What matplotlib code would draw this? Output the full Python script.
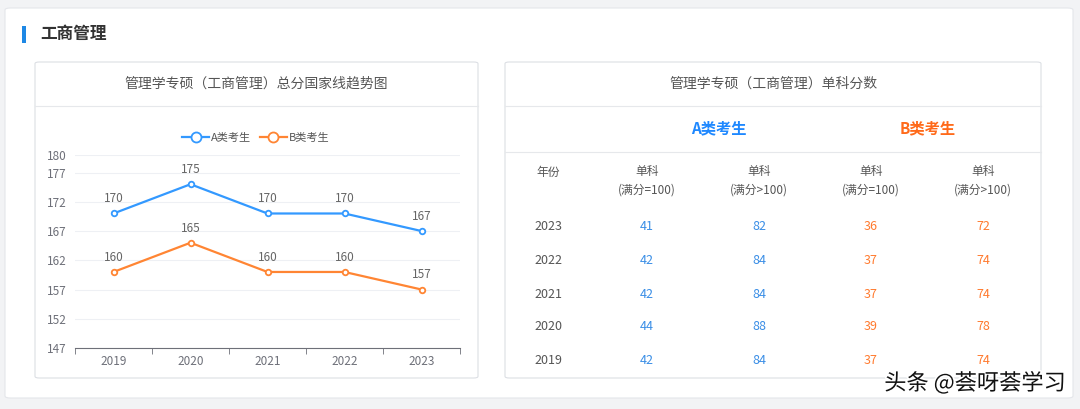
import matplotlib
matplotlib.use("Agg")
import matplotlib.pyplot as plt
from matplotlib.patches import FancyBboxPatch, Rectangle
from matplotlib.lines import Line2D
import matplotlib.patheffects as pe

plt.rcParams['font.family'] = ['Noto Sans CJK SC', 'DejaVu Sans']

# data
years = ['2019', '2020', '2021', '2022', '2023']
a_total = [170, 175, 170, 170, 167]
b_total = [160, 165, 160, 160, 157]
y_ticks = [147, 152, 157, 162, 167, 172, 177, 180]

table_years = ['2023', '2022', '2021', '2020', '2019']
a_eq100 = [41, 42, 42, 44, 42]
a_gt100 = [82, 84, 84, 88, 84]
b_eq100 = [36, 37, 37, 39, 37]
b_gt100 = [72, 74, 74, 78, 74]

BLUE = '#3399ff'
ORANGE = '#ff8533'
TBL_BLUE = '#3a8ee6'
TBL_ORANGE = '#ff7a2e'
W, H = 1080, 409


def fx(x):
    return x / W


def fy(y):
    return 1 - y / H


fig = plt.figure(figsize=(10.8, 4.09), dpi=100)
fig.patch.set_facecolor('#f2f3f5')

# outer white card
fig.patches.append(FancyBboxPatch((fx(5), fy(398)), fx(1068), 390 / H,
                                  boxstyle='round,pad=0,rounding_size=0.005',
                                  transform=fig.transFigure, fc='white', ec='#e4e6ea', lw=0.8,
                                  zorder=-3))
# section title
fig.patches.append(Rectangle((fx(22), fy(43)), fx(4), 17 / H, transform=fig.transFigure,
                             fc='#1e88e5', ec='none', zorder=-2))
fig.text(fx(40), fy(34), '工商管理', fontsize=12, fontweight='bold', color='#333333', va='center')

# two panels
for x0, x1 in [(35, 478), (505, 1041)]:
    fig.patches.append(FancyBboxPatch((fx(x0), fy(378)), fx(x1 - x0), 316 / H,
                                      boxstyle='round,pad=0,rounding_size=0.004',
                                      transform=fig.transFigure, fc='white', ec='#dcdfe4', lw=0.8,
                                      zorder=-2))
    fig.lines.append(Line2D([fx(x0), fx(x1)], [fy(106), fy(106)], transform=fig.transFigure,
                            color='#e6e8eb', lw=0.8, zorder=-1))
fig.lines.append(Line2D([fx(505), fx(1041)], [fy(152), fy(152)], transform=fig.transFigure,
                        color='#e6e8eb', lw=0.8, zorder=-1))

fig.text(fx(256), fy(84), '管理学专硕（工商管理）总分国家线趋势图', fontsize=10, color='#555555',
         ha='center', va='center')
fig.text(fx(773), fy(84), '管理学专硕（工商管理）单科分数', fontsize=10, color='#555555',
         ha='center', va='center')

# line chart
ax = fig.add_axes([fx(75), fy(348), fx(385), 193 / H])
ax.set_zorder(2)
ax.patch.set_alpha(0)
x = range(len(years))
ax.plot(x, a_total, color=BLUE, lw=1.6, marker='o', ms=4, mfc='white', mec=BLUE, mew=1.3,
        label='A类考生')
ax.plot(x, b_total, color=ORANGE, lw=1.6, marker='o', ms=4, mfc='white', mec=ORANGE, mew=1.3,
        label='B类考生')
for i, (a, b) in enumerate(zip(a_total, b_total)):
    ax.annotate(str(a), (i, a), xytext=(0, 8), textcoords='offset points', ha='center',
                fontsize=8.5, color='#666666')
    ax.annotate(str(b), (i, b), xytext=(0, 8), textcoords='offset points', ha='center',
                fontsize=8.5, color='#666666')
ax.set_xlim(-0.5, len(years) - 0.5)
ax.set_ylim(147, 180)
ax.set_yticks(y_ticks)
ax.set_xticks(list(x))
ax.set_xticklabels(years)
ax.set_xticks([i - 0.5 for i in range(len(years) + 1)], minor=True)
ax.tick_params(axis='x', which='major', length=0, labelsize=8.5, labelcolor='#6e7079', pad=5)
ax.tick_params(axis='x', which='minor', length=4, color='#6e7079')
ax.tick_params(axis='y', length=0, labelsize=8.5, labelcolor='#6e7079', pad=6)
ax.grid(axis='y', color='#eef0f4', lw=0.8)
ax.set_axisbelow(True)
for s in ['top', 'right', 'left']:
    ax.spines[s].set_visible(False)
ax.spines['bottom'].set_color('#6e7079')
ax.legend(loc='lower center', bbox_to_anchor=(0.47, 1.04), ncol=2, frameon=False, fontsize=8,
          labelcolor='#555555', handlelength=2.4, columnspacing=0.8, handletextpad=0.2,
          borderaxespad=0, markerscale=1.8)

# table
fig.text(fx(719), fy(128), 'A类考生', fontsize=11, fontweight='bold', color='#1e88ff',
         ha='center', va='center')
fig.text(fx(928), fy(128), 'B类考生', fontsize=11, fontweight='bold', color='#ff6a1a',
         ha='center', va='center')
col_x = [548, 647, 759, 871, 983]
fig.text(fx(col_x[0]), fy(172), '年份', fontsize=8.5, color='#555555', ha='center', va='center')
for cx, lab in zip(col_x[1:], ['(满分=100)', '(满分>100)', '(满分=100)', '(满分>100)']):
    fig.text(fx(cx), fy(171), '单科', fontsize=8.5, color='#555555', ha='center', va='center')
    fig.text(fx(cx), fy(190), lab, fontsize=8.5, color='#555555', ha='center', va='center')
row_y = [227, 261, 294, 327, 361]
for i, ry in enumerate(row_y):
    fig.text(fx(col_x[0]), fy(ry), table_years[i], fontsize=9, color='#555555', ha='center', va='center')
    fig.text(fx(col_x[1]), fy(ry), str(a_eq100[i]), fontsize=9, color=TBL_BLUE, ha='center', va='center')
    fig.text(fx(col_x[2]), fy(ry), str(a_gt100[i]), fontsize=9, color=TBL_BLUE, ha='center', va='center')
    fig.text(fx(col_x[3]), fy(ry), str(b_eq100[i]), fontsize=9, color=TBL_ORANGE, ha='center', va='center')
    fig.text(fx(col_x[4]), fy(ry), str(b_gt100[i]), fontsize=9, color=TBL_ORANGE, ha='center', va='center')

# watermark
fig.text(fx(1066), fy(383), '头条 @荟呀荟学习', fontsize=16, fontweight='medium', color='#111111',
         ha='right', va='center', zorder=5,
         path_effects=[pe.withStroke(linewidth=2.5, foreground='white')])

fig.savefig('out.png', dpi=100, facecolor=fig.get_facecolor())
